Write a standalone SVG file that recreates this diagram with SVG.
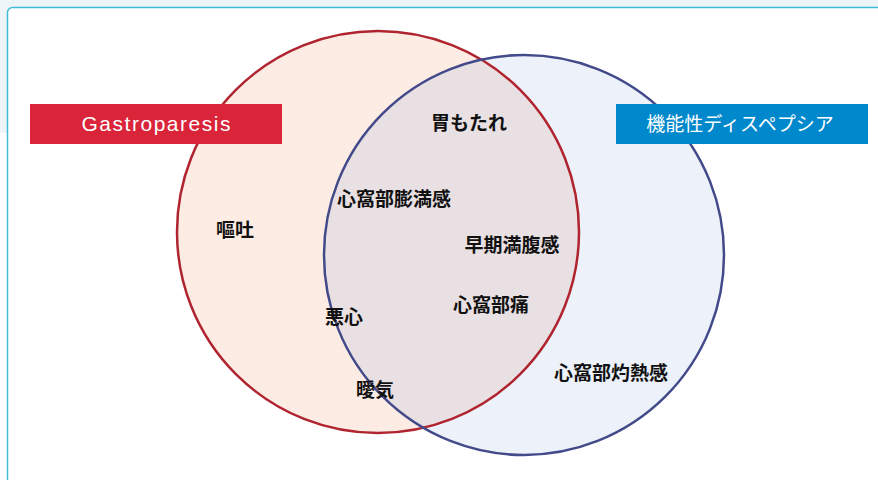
<svg xmlns="http://www.w3.org/2000/svg" width="878" height="480" viewBox="0 0 878 480">
  <style>
    .lbl { font-family: "Noto Sans CJK JP", "Noto Sans", sans-serif; font-size: 19px; font-weight: bold; fill: #111; text-anchor: middle; }
    .ttl { fill: #fff; text-anchor: middle; }
    .ttl-jp { font-family: "Noto Sans CJK JP", sans-serif; font-size: 19px; }
    .ttl-en { font-family: "Liberation Sans", sans-serif; font-size: 21px; }
  </style>
  <defs>
    <clipPath id="clipL"><circle cx="378" cy="232" r="201"/></clipPath>
  </defs>
  <rect x="0" y="0" width="878" height="133" fill="#eef5f8"/>
  <rect x="7.5" y="7.5" width="900" height="500" rx="5" fill="#ffffff" stroke="#41bcd6" stroke-width="1.5"/>
  <g id="set-gastroparesis-fill"><circle cx="378" cy="232" r="201" fill="#fdece4"/></g>
  <g id="set-fd-fill"><circle cx="524" cy="255" r="200" fill="#ecf1fa"/></g>
  <g id="overlap"><circle cx="524" cy="255" r="200" fill="#e8e0e2" clip-path="url(#clipL)"/></g>
  <g id="circle-outlines">
    <circle cx="378" cy="232" r="201" fill="none" stroke="#b0242f" stroke-width="2.5"/>
    <circle cx="524" cy="255" r="200" fill="none" stroke="#434a8a" stroke-width="2.5"/>
  </g>
  <g id="title-gastroparesis">
    <rect x="30" y="104" width="252" height="40" fill="#d9243a"/>
    <text class="ttl ttl-en" x="156" y="131" textLength="149" lengthAdjust="spacing">Gastroparesis</text>
  </g>
  <g id="title-fd">
    <rect x="616" y="104" width="252" height="40" fill="#0088cc"/>
    <text class="ttl ttl-jp" x="740" y="131">機能性ディスペプシア</text>
  </g>
  <g id="labels">
    <text class="lbl" x="469" y="130">胃もたれ</text>
    <text class="lbl" x="394" y="206">心窩部膨満感</text>
    <text class="lbl" x="512" y="252">早期満腹感</text>
    <text class="lbl" x="491" y="312">心窩部痛</text>
    <text class="lbl" x="344" y="324">悪心</text>
    <text class="lbl" x="235" y="237">嘔吐</text>
    <text class="lbl" x="375" y="397">曖気</text>
    <text class="lbl" x="611" y="380">心窩部灼熱感</text>
  </g>
</svg>
